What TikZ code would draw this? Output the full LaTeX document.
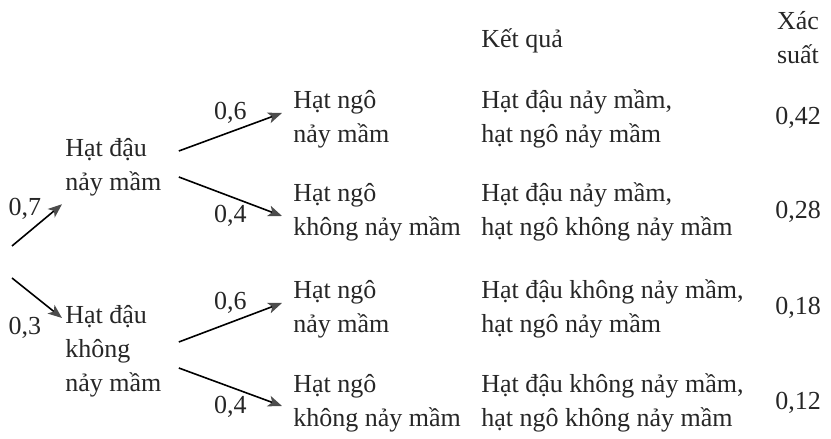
\documentclass[tikz,border=0pt]{standalone}
\usepackage{fontspec}
\setmainfont{Liberation Serif}
\usetikzlibrary{arrows.meta,positioning}

\begin{document}
\begin{tikzpicture}[x=0.5bp,y=-0.5bp,
    every node/.style={inner sep=0pt,text=black!85,font=\fontsize{13bp}{17bp}\selectfont},
    txt/.style={anchor=west,align=left},
    arr/.style={line width=0.8bp,-{Stealth[length=7bp,width=5.5bp,inset=1.8bp,color=black!70]}}]
    \useasboundingbox (0,0) rectangle (831,439);

    % Headers
    \node[align=center] (xs) at (798,38) {Xác\\suất};
    \node[txt] (kq) at (481,41) {Kết quả};

    % Hat dau
    \node[txt] (d1) at (65,167) {Hạt đậu\\nảy mầm};
    \node[txt] (d2) at (65,351) {Hạt đậu\\không\\nảy mầm};

    % Hat ngo
    \node[txt] (n1) at (293,119) {Hạt ngô\\nảy mầm};
    \node[txt] (n2) at (293,212) {Hạt ngô\\không nảy mầm};
    \node[txt] (n3) at (293,309) {Hạt ngô\\nảy mầm};
    \node[txt] (n4) at (293,403) {Hạt ngô\\không nảy mầm};

    % Ket qua
    \node[txt] (r1) at (481,119) {Hạt đậu nảy mầm,\\hạt ngô nảy mầm};
    \node[txt] (r2) at (481,212) {Hạt đậu nảy mầm,\\hạt ngô không nảy mầm};
    \node[txt] (r3) at (481,309) {Hạt đậu không nảy mầm,\\hạt ngô nảy mầm};
    \node[txt] (r4) at (481,403) {Hạt đậu không nảy mầm,\\hạt ngô không nảy mầm};

    % Xac suat
    \node (p1) at (798,118) {0,42};
    \node (p2) at (798,212) {0,28};
    \node (p3) at (798,308) {0,18};
    \node (p4) at (798,403) {0,12};

    % Goc
    \coordinate (o1) at (12,246);
    \coordinate (o2) at (12,278);

    \draw[arr] (o1) -- ([shift={(-3,8)}]d1.south west)
        node[pos=1,anchor=north east,xshift=-10bp,yshift=3.5bp] {0,7};
    \draw[arr] (o2) -- ([shift={(-3,-33)}]d2.west)
        node[pos=1,anchor=north east,xshift=-10bp,yshift=1bp] {0,3};

    \draw[arr] ([shift={(17,-16)}]d1.east) -- ([shift={(-11,-6)}]n1.west)
        node[midway,above=4bp] {0,6};
    \draw[arr] ([shift={(17,10)}]d1.east) -- ([shift={(-11,4)}]n2.west)
        node[midway,below=4bp] {0,4};
    \draw[arr] ([shift={(17,-9)}]d2.east) -- ([shift={(-11,-6)}]n3.west)
        node[midway,above=4bp] {0,6};
    \draw[arr] ([shift={(17,17)}]d2.east) -- ([shift={(-11,3)}]n4.west)
        node[midway,below=4bp] {0,4};
\end{tikzpicture}
\end{document}
